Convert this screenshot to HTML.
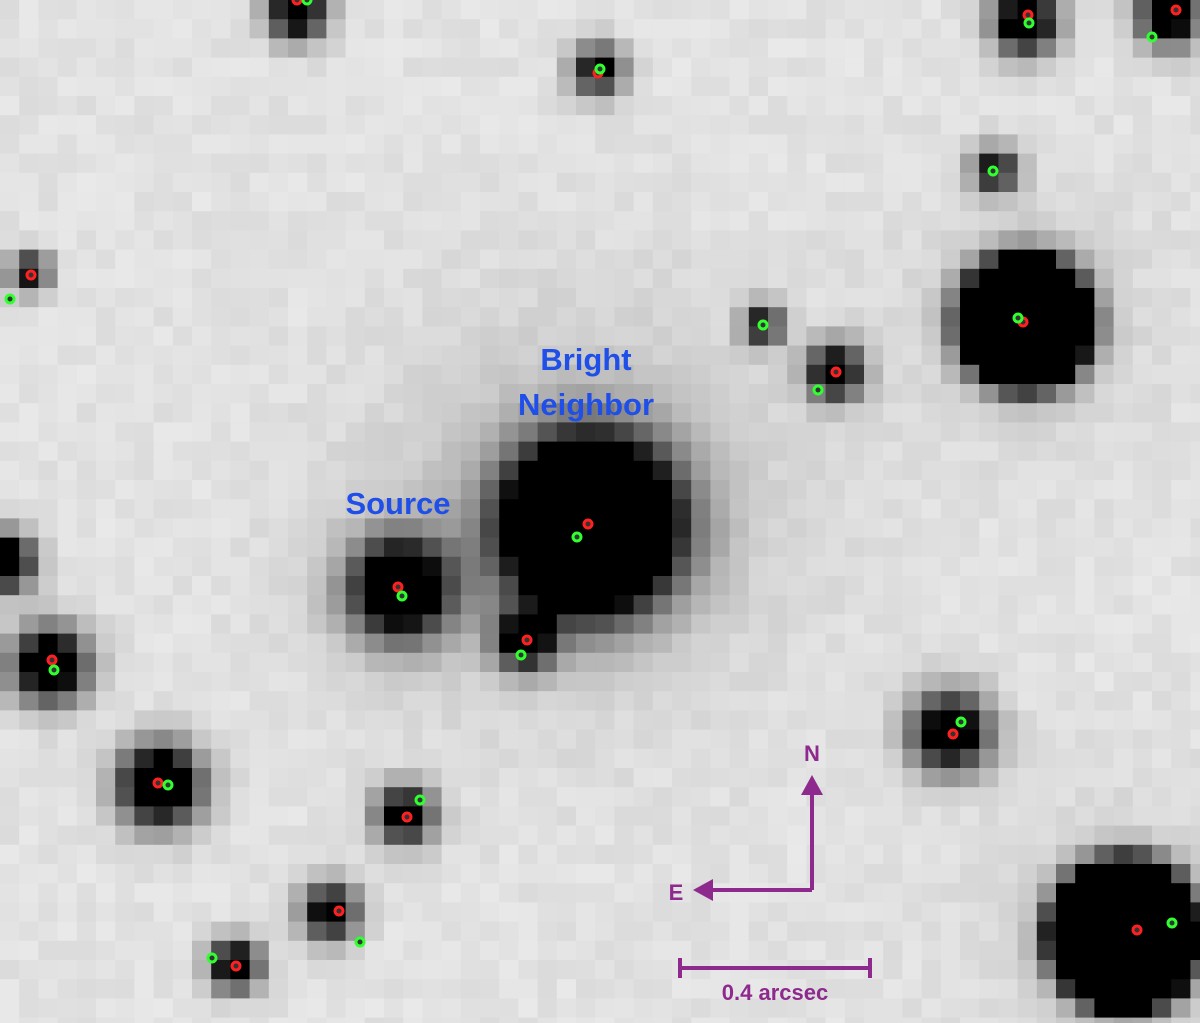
<!DOCTYPE html>
<html><head><meta charset="utf-8"><style>
html,body{margin:0;padding:0;background:#e0e0e0;}
svg{display:block}
text{font-family:"Liberation Sans",sans-serif;font-weight:bold}
</style></head><body>
<svg id="img" width="1200" height="1023" viewBox="0 0 1200 1023" xmlns="http://www.w3.org/2000/svg">
<g id="pix"></g>
<g id="marks"></g>
<text x="586" y="370" fill="#1f4fe8" font-size="31" text-anchor="middle">Bright</text>
<text x="586" y="415" fill="#1f4fe8" font-size="31" text-anchor="middle">Neighbor</text>
<text x="398" y="514" fill="#1f4fe8" font-size="31" text-anchor="middle">Source</text>
<g stroke="#8e2a8e" stroke-width="4" fill="#8e2a8e">
<line x1="812" y1="890" x2="812" y2="790"/>
<polygon points="812,775 801,795 823,795" stroke="none"/>
<line x1="812" y1="890" x2="708" y2="890"/>
<polygon points="693,890 713,879 713,901" stroke="none"/>
</g>
<text x="812" y="761" fill="#8e2a8e" font-size="22" text-anchor="middle">N</text>
<text x="676" y="900" fill="#8e2a8e" font-size="22" text-anchor="middle">E</text>
<g stroke="#8e2a8e" stroke-width="4">
<line x1="680" y1="968" x2="870" y2="968"/>
<line x1="680" y1="958" x2="680" y2="978"/>
<line x1="870" y1="958" x2="870" y2="978"/>
</g>
<text x="775" y="1000" fill="#8e2a8e" font-size="22" text-anchor="middle">0.4 arcsec</text>
</svg>
<script>
// star data: x, y (image px), core radius, halo sigma
const starX=[297,598,1025,1170,995,30,1025,763,835,590,400,525,5,50,160,405,950,330,235,1125];
const starY=[12,70,22,15,170,272,322,325,372,525,588,640,562,665,785,815,732,912,965,935];
const starCore=[14,6,18,16,3,2,66,1,12,80,30,12,16,22,26,13,20,11,12,76];
const starSigma=[20,18,22,22,16,14,30,14,20,52,34,20,20,26,28,20,28,20,18,30];
// broad faint glow components: x, y, amplitude, width
const glowX=[590,400,1025,1125];
const glowY=[500,590,322,935];
const glowAmp=[0.18,0.08,0.08,0.08];
const glowW=[130,80,90,100];
// marker data
const redX=[297,598,1028,1176,31,1023,763,836,588,398,527,52,158,407,953,339,236,1137];
const redY=[0,73,15,10,275,322,325,372,524,587,640,660,783,817,734,911,966,930];
const greenX=[307,600,1029,1152,993,10,1018,763,818,577,402,521,54,168,420,961,360,212,1172];
const greenY=[0,69,23,37,171,299,318,325,390,537,596,655,670,785,800,722,942,958,923];

const NS="http://www.w3.org/2000/svg";
const C=19.2, bg=226;
const pix=document.getElementById('pix');
let seed=7;function rnd(){seed=(seed*16807)%2147483647;return seed/2147483647;}
for(let gy=0;gy*C<1023;gy++){for(let gx=0;gx*C<1200;gx++){
 const cx=gx*C+C/2, cy=gy*C+C/2;let D=0;
 for(let i=0;i<starX.length;i++){
  const d2=(cx-starX[i])**2+(cy-starY[i])**2;
  const s2=2*starSigma[i]**2;
  D+=Math.exp((starCore[i]**2-d2)/s2)*0.999;
 }
 for(let i=0;i<glowX.length;i++){
  const d2=(cx-glowX[i])**2+(cy-glowY[i])**2;
  D+=glowAmp[i]*Math.exp(-d2/(2*glowW[i]**2));
 }
 let v=(bg-7+rnd()*14)*(1-Math.min(1,D));
 if(D>=0.97)v=0;
 v=Math.max(0,Math.round(v));
 const r=document.createElementNS(NS,'rect');
 
 
 r.setAttribute('x',(gx*C).toFixed(1));r.setAttribute('y',(gy*C).toFixed(1));
 r.setAttribute('width',C+0.5);r.setAttribute('height',C+0.5);
 r.setAttribute('fill',`rgb(${v},${v},${v})`);
 pix.appendChild(r);
}}
const marks=document.getElementById('marks');
function marker(x,y,col,name){
 const c=document.createElementNS(NS,'circle');
 
 
 c.setAttribute('cx',x);c.setAttribute('cy',y);c.setAttribute('r',4);
 c.setAttribute('fill','#333');c.setAttribute('stroke',col);c.setAttribute('stroke-width',3);
 marks.appendChild(c);
}
for(let i=0;i<redX.length;i++)marker(redX[i],redY[i],'#ff2020','red-marker');
for(let i=0;i<greenX.length;i++)marker(greenX[i],greenY[i],'#30ff30','green-marker');
</script>
</body></html>
